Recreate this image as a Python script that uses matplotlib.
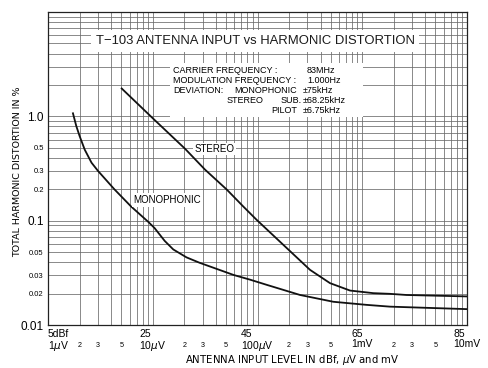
import matplotlib
matplotlib.use("Agg")
import matplotlib.pyplot as plt
from matplotlib.patches import Rectangle
from matplotlib.ticker import FixedLocator

plt.rcParams['font.family'] = ['Liberation Sans', 'DejaVu Sans']

# ===== Data (input in uV, THD in %) =====
mono_uv = [1.73, 1.86, 2.0, 2.24, 2.6, 3.0, 4.3, 6.2, 9.1, 10.4, 13.0, 15.7,
           21, 28, 59, 85, 122, 255, 530, 1100, 1840, 10000]
mono_thd = [1.07, 0.81, 0.65, 0.48, 0.36, 0.30, 0.20, 0.137, 0.097, 0.085,
            0.064, 0.053, 0.0445, 0.0395, 0.0302, 0.0272, 0.0243, 0.0194,
            0.0167, 0.0156, 0.0150, 0.0142]

stereo_uv = [5.05, 10.1, 20.3, 31.5, 50.8, 73, 98, 190, 317, 492, 764,
             1276, 1840, 2650, 10000]
stereo_thd = [1.85, 0.95, 0.49, 0.309, 0.199, 0.137, 0.102, 0.0547, 0.0338,
              0.0252, 0.0214, 0.0202, 0.0199, 0.0194, 0.0188]

x_major = [1, 10, 100, 1000, 10000]
x_major_labels = ["5dBf\n1$\\mu$V", "25\n10$\\mu$V", "45\n100$\\mu$V",
                  "65\n1mV", "85\n10mV"]
x_minor_labelled = [2, 3, 5]
y_major = [0.01, 0.1, 1.0, 10.0]
y_major_labels = ["0.01", "0.1", "1.0", ""]
y_minor_labelled = [0.02, 0.03, 0.05, 0.2, 0.3, 0.5]

info_labels = ["CARRIER FREQUENCY :", "MODULATION FREQUENCY :", "DEVIATION:"]
info_values = ["83MHz", "1.000Hz"]
dev_values = ["\u00b175kHz", "\u00b168.25kHz", "\u00b16.75kHz"]

# ===== Figure =====
fig = plt.figure(figsize=(4.88, 3.68), dpi=100)
ax = fig.add_axes([0.0984, 0.1168, 0.8586, 0.8505])
ax.set_axisbelow(True)

ax.plot(mono_uv, mono_thd, color='#111111', lw=1.3, zorder=2)
ax.plot(stereo_uv, stereo_thd, color='#111111', lw=1.3, zorder=2)

ax.set_xscale('log')
ax.set_yscale('log')
ax.set_xlim(1, 10000)
ax.set_ylim(0.01, 10)

# x ticks: two-line labels at decades, small 2 3 5 between
decades = [1, 10, 100, 1000]
minor_x = [m * d for d in decades for m in range(2, 10)]
minor_x_labels = [str(m) if m in x_minor_labelled else ''
                  for d in decades for m in range(2, 10)]
ax.xaxis.set_major_locator(FixedLocator(x_major))
ax.set_xticklabels(x_major_labels, fontsize=7.5, multialignment='left',
                   linespacing=1.0)
ax.xaxis.set_minor_locator(FixedLocator(minor_x))
ax.set_xticklabels(minor_x_labels, minor=True, fontsize=5.2)
ax.get_xticklabels()[0].set_ha('left')
ax.tick_params(axis='x', which='major', length=0, pad=3)
ax.tick_params(axis='x', which='minor', length=0, pad=12)

# y ticks
minor_y = [m * d for d in [0.01, 0.1, 1.0] for m in range(2, 10)]
ax.yaxis.set_major_locator(FixedLocator(y_major))
ax.set_yticklabels(y_major_labels, fontsize=8.5)
ax.yaxis.set_minor_locator(FixedLocator(minor_y))
ax.set_yticklabels([('%g' % v) if any(abs(v - t) < 1e-9 for t in y_minor_labelled)
                    else '' for v in minor_y], minor=True, fontsize=5.5)
ax.tick_params(axis='y', which='both', length=0, pad=3)

ax.grid(True, which='both', color='#6a6a6a', lw=0.55)
for s in ax.spines.values():
    s.set_color('#222222')
    s.set_linewidth(0.9)

ax.set_xlabel("ANTENNA INPUT LEVEL IN dBf, $\\mu$V and mV", fontsize=7.3,
              family='DejaVu Sans')
ax.xaxis.set_label_coords(0.582, -0.112)
ax.xaxis.label.set_va('center')
ax.set_ylabel("TOTAL HARMONIC DISTORTION IN %", fontsize=6.8,
              family='DejaVu Sans')
ax.yaxis.set_label_coords(-0.072, 0.489)
ax.yaxis.label.set_va('center')

# title inside the grid
ax.text(0.494, 0.907, "T\u2212103 ANTENNA INPUT vs HARMONIC DISTORTION",
        transform=ax.transAxes, ha='center', va='center', fontsize=9.4,
        color='#1a1a1a', zorder=3,
        bbox=dict(fc='white', ec='none', pad=3.5))

# info block
ax.add_patch(Rectangle((0.291, 0.665), 0.461, 0.172, transform=ax.transAxes,
                       fc='white', ec='none', zorder=1))
rows_y = [0.813, 0.781, 0.750, 0.717, 0.684]
fs = 6.5
for lab, yy in zip(info_labels, rows_y):
    ax.text(0.298, yy, lab, transform=ax.transAxes, fontsize=fs,
            va='center', ha='left', zorder=3)
for val, yy in zip(info_values, rows_y):
    ax.text(0.618, yy, val, transform=ax.transAxes, fontsize=fs,
            va='center', ha='left', zorder=3)
for val, yy in zip(dev_values, rows_y[2:]):
    ax.text(0.608, yy, val, transform=ax.transAxes, fontsize=fs,
            va='center', ha='left', zorder=3)
ax.text(0.594, rows_y[2], "MONOPHONIC", transform=ax.transAxes, fontsize=fs,
        va='center', ha='right', zorder=3)
ax.text(0.427, rows_y[3], "STEREO", transform=ax.transAxes, fontsize=fs,
        va='center', ha='left', zorder=3)
ax.text(0.605, rows_y[3], "SUB.", transform=ax.transAxes, fontsize=fs,
        va='center', ha='right', zorder=3)
ax.text(0.594, rows_y[4], "PILOT", transform=ax.transAxes, fontsize=fs,
        va='center', ha='right', zorder=3)

# curve labels
ax.text(0.349, 0.562, "STEREO", transform=ax.transAxes, fontsize=7,
        va='center', ha='left', zorder=3,
        bbox=dict(fc='white', ec='none', pad=1.0))
ax.text(0.284, 0.399, "MONOPHONIC", transform=ax.transAxes, fontsize=7,
        va='center', ha='center', zorder=3,
        bbox=dict(fc='white', ec='none', pad=1.2))

fig.savefig("out.png", dpi=100)
